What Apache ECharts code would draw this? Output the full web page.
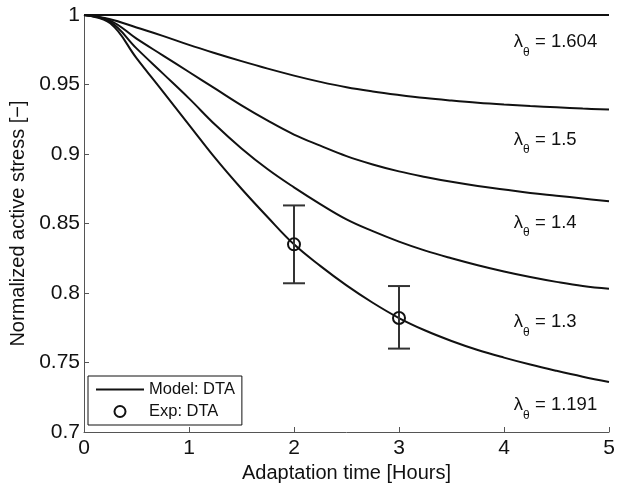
<!DOCTYPE html>
<html>
<head>
<meta charset="utf-8">
<script src="https://cdn.jsdelivr.net/npm/echarts@6/dist/echarts.min.js"></script>
<style>
html,body{margin:0;padding:0;background:#fff;}
#chart{width:621px;height:489px;}
</style>
</head>
<body>
<div id="chart"></div>
<script>
// ---- data ----
const timeHours  = [0, 0.25, 0.5, 0.75, 1, 1.25, 1.5, 1.75, 2, 2.25, 2.5, 2.75, 3, 3.25, 3.5, 3.75, 4, 4.25, 4.5, 4.75, 5];
const model_1604 = [1, 1, 1, 1, 1, 1, 1, 1, 1, 1, 1, 1, 1, 1, 1, 1, 1, 1, 1, 1, 1];
const model_15   = [1, 0.997, 0.991, 0.985, 0.9785, 0.9725, 0.9668, 0.9614, 0.9564, 0.9519, 0.948, 0.945, 0.9425, 0.9403, 0.9385, 0.9369, 0.9356, 0.9345, 0.9336, 0.9327, 0.932];
const model_14   = [1, 0.996, 0.983, 0.971, 0.959, 0.947, 0.935, 0.924, 0.914, 0.906, 0.8985, 0.8925, 0.8875, 0.8835, 0.880, 0.877, 0.8745, 0.872, 0.870, 0.868, 0.866];
const model_13   = [1, 0.995, 0.976, 0.958, 0.940, 0.921, 0.904, 0.889, 0.876, 0.864, 0.853, 0.8445, 0.837, 0.8305, 0.825, 0.820, 0.8155, 0.8115, 0.808, 0.805, 0.803];
const model_1191 = [1, 0.994, 0.969, 0.945, 0.921, 0.897, 0.875, 0.8545, 0.835, 0.8195, 0.8055, 0.793, 0.782, 0.773, 0.7655, 0.759, 0.7535, 0.7485, 0.744, 0.7398, 0.736];

const expTime  = [2, 3];
const expMean  = [0.835, 0.782];
const expLow   = [0.807, 0.760];
const expHigh  = [0.863, 0.805];

const lambdaValues = ['1.604', '1.5', '1.4', '1.3', '1.191'];
const lambdaLabelX = [4.094, 4.094, 4.094, 4.094, 4.094];
const lambdaLabelY = [0.980, 0.910, 0.8504, 0.7786, 0.7189];

// ---- build ----
const FONT = '"Liberation Sans", Arial, Helvetica, sans-serif';
const zip = (xs, ys) => xs.map((x, i) => [x, ys[i]]);
const curves = [model_1604, model_15, model_14, model_13, model_1191];

const lineSeries = curves.map(c => ({
  name: 'Model: DTA',
  type: 'line',
  data: zip(timeHours, c),
  smooth: 0.4,
  symbol: 'none',
  clip: false,
  lineStyle: { color: '#111', width: 2 },
  itemStyle: { color: '#111' },
  z: 3
}));

const chart = echarts.init(document.getElementById('chart'), null, { renderer: 'canvas' });
chart.setOption({
  animation: false,
  backgroundColor: '#fff',
  textStyle: { fontFamily: FONT },
  grid: { left: 79, right: 12, top: 15, bottom: 57, containLabel: false },
  legend: {
    data: [
      { name: 'Model: DTA', icon: 'path://M0,0 L48,0 L48,2.2 L0,2.2 Z', itemStyle: { color: '#111' } },
      { name: 'Exp: DTA' }
    ],
    orient: 'vertical',
    left: 88, top: 376,
    itemWidth: 48, itemHeight: 11, itemGap: 5,
    padding: [5, 7, 5, 8],
    borderColor: '#111', borderWidth: 1,
    backgroundColor: '#fff',
    selectedMode: false,
    textStyle: { fontSize: 16.5, color: '#111', fontFamily: FONT },
    z: 10
  },
  xAxis: {
    type: 'value', min: 0, max: 5, interval: 1,
    name: 'Adaptation time [Hours]',
    nameLocation: 'middle', nameGap: 30,
    nameTextStyle: { fontSize: 20, color: '#111', fontFamily: FONT },
    axisLine: { show: true, lineStyle: { color: '#555', width: 1 } },
    axisTick: { show: true, inside: true, length: 5, lineStyle: { color: '#555' } },
    axisLabel: { fontSize: 21, color: '#111', margin: 6, fontFamily: FONT },
    splitLine: { show: false }
  },
  yAxis: {
    type: 'value', min: 0.7, max: 1, interval: 0.05,
    name: 'Normalized active stress [\u2212]',
    nameLocation: 'middle', nameGap: 56,
    nameTextStyle: { fontSize: 20, color: '#111', fontFamily: FONT },
    axisLine: { show: true, lineStyle: { color: '#555', width: 1 } },
    axisTick: { show: true, inside: true, length: 5, lineStyle: { color: '#555' } },
    axisLabel: {
      fontSize: 21, color: '#111', margin: 4, fontFamily: FONT,
      formatter: v => String(+v.toFixed(2))
    },
    splitLine: { show: false }
  },
  series: [
    ...lineSeries,
    {
      name: 'errorbars',
      type: 'custom',
      data: expTime.map((t, i) => [t, expMean[i], expLow[i], expHigh[i]]),
      renderItem: (params, api) => {
        const x = api.value(0);
        const top = api.coord([x, api.value(3)]);
        const bot = api.coord([x, api.value(2)]);
        const half = 11;
        const style = { stroke: '#333', lineWidth: 2 };
        return {
          type: 'group',
          children: [
            { type: 'line', shape: { x1: top[0], y1: top[1], x2: bot[0], y2: bot[1] }, style },
            { type: 'line', shape: { x1: top[0] - half, y1: top[1], x2: top[0] + half, y2: top[1] }, style },
            { type: 'line', shape: { x1: bot[0] - half, y1: bot[1], x2: bot[0] + half, y2: bot[1] }, style }
          ]
        };
      },
      z: 4
    },
    {
      name: 'Exp: DTA',
      type: 'scatter',
      data: zip(expTime, expMean),
      symbol: 'circle',
      symbolSize: 12,
      itemStyle: { color: 'rgba(255,255,255,0)', borderColor: '#111', borderWidth: 2, opacity: 1 },
      z: 5
    },
    {
      name: 'lambdaLabels',
      type: 'scatter',
      data: lambdaValues.map((v, i) => [lambdaLabelX[i], lambdaLabelY[i]]),
      symbolSize: 0,
      silent: true,
      itemStyle: { opacity: 1 },
      label: {
        show: true,
        position: 'right',
        distance: 0,
        formatter: p => '{l|\u03bb}{s|\u03b8}{t| = ' + lambdaValues[p.dataIndex] + '}',
        rich: {
          l: { fontSize: 18.5, color: '#111', lineHeight: 20, verticalAlign: 'top', fontFamily: FONT },
          s: { fontSize: 12, color: '#111', lineHeight: 12, padding: [14, 0, 0, 0], verticalAlign: 'top', fontFamily: FONT },
          t: { fontSize: 18.5, color: '#111', lineHeight: 20, verticalAlign: 'top', fontFamily: FONT }
        }
      },
      z: 6
    }
  ]
});
</script>
</body>
</html>
